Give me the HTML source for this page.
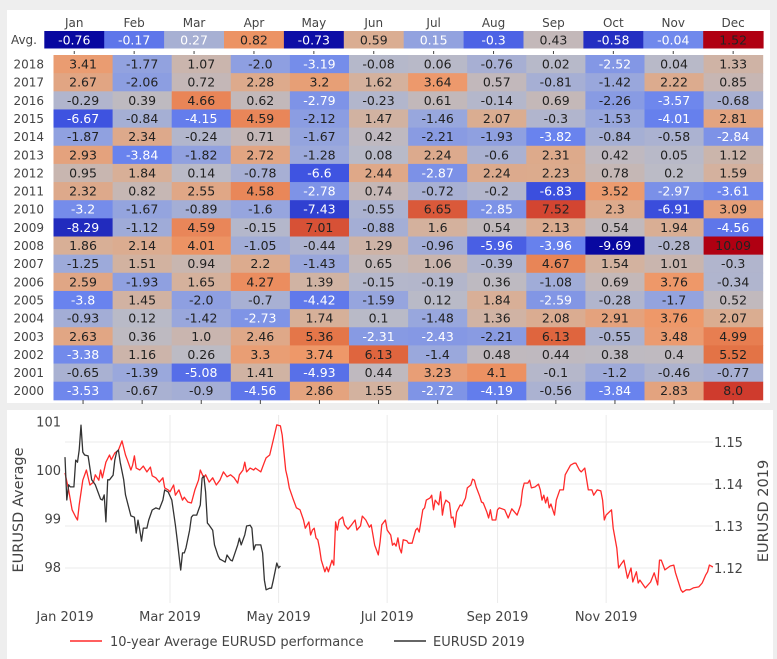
<!DOCTYPE html>
<html><head><meta charset="utf-8">
<style>
html,body{margin:0;padding:0;background:#eeeeee;}
svg{display:block;font-family:"DejaVu Sans","Liberation Sans",sans-serif;}
</style></head>
<body>
<svg id="root" width="777" height="659" viewBox="0 0 777 659">
  <rect x="7" y="10" width="763" height="393" fill="#fff"/>
  <rect x="7" y="410" width="766" height="249" fill="#fff"/>
  <g id="heat"></g>
  <g id="line"></g>
</svg>
<script>
const months=["Jan","Feb","Mar","Apr","May","Jun","Jul","Aug","Sep","Oct","Nov","Dec"];
const avgValues=[-0.76,-0.17,0.27,0.82,-0.73,0.59,0.15,-0.3,0.43,-0.58,-0.04,1.52];
const years=["2018","2017","2016","2015","2014","2013","2012","2011","2010","2009","2008","2007","2006","2005","2004","2003","2002","2001","2000"];
const yearValues=[
[3.41,-1.77,1.07,-2.0,-3.19,-0.08,0.06,-0.76,0.02,-2.52,0.04,1.33],
[2.67,-2.06,0.72,2.28,3.2,1.62,3.64,0.57,-0.81,-1.42,2.22,0.85],
[-0.29,0.39,4.66,0.62,-2.79,-0.23,0.61,-0.14,0.69,-2.26,-3.57,-0.68],
[-6.67,-0.84,-4.15,4.59,-2.12,1.47,-1.46,2.07,-0.3,-1.53,-4.01,2.81],
[-1.87,2.34,-0.24,0.71,-1.67,0.42,-2.21,-1.93,-3.82,-0.84,-0.58,-2.84],
[2.93,-3.84,-1.82,2.72,-1.28,0.08,2.24,-0.6,2.31,0.42,0.05,1.12],
[0.95,1.84,0.14,-0.78,-6.6,2.44,-2.87,2.24,2.23,0.78,0.2,1.59],
[2.32,0.82,2.55,4.58,-2.78,0.74,-0.72,-0.2,-6.83,3.52,-2.97,-3.61],
[-3.2,-1.67,-0.89,-1.6,-7.43,-0.55,6.65,-2.85,7.52,2.3,-6.91,3.09],
[-8.29,-1.12,4.59,-0.15,7.01,-0.88,1.6,0.54,2.13,0.54,1.94,-4.56],
[1.86,2.14,4.01,-1.05,-0.44,1.29,-0.96,-5.96,-3.96,-9.69,-0.28,10.09],
[-1.25,1.51,0.94,2.2,-1.43,0.65,1.06,-0.39,4.67,1.54,1.01,-0.3],
[2.59,-1.93,1.65,4.27,1.39,-0.15,-0.19,0.36,-1.08,0.69,3.76,-0.34],
[-3.8,1.45,-2.0,-0.7,-4.42,-1.59,0.12,1.84,-2.59,-0.28,-1.7,0.52],
[-0.93,0.12,-1.42,-2.73,1.74,0.1,-1.48,1.36,2.08,2.91,3.76,2.07],
[2.63,0.36,1.0,2.46,5.36,-2.31,-2.43,-2.21,6.13,-0.55,3.48,4.99],
[-3.38,1.16,0.26,3.3,3.74,6.13,-1.4,0.48,0.44,0.38,0.4,5.52],
[-0.65,-1.39,-5.08,1.41,-4.93,0.44,3.23,4.1,-0.1,-1.2,-0.46,-0.77],
[-3.53,-0.67,-0.9,-4.56,2.86,1.55,-2.72,-4.19,-0.56,-3.84,2.83,8.0]];

const avgDays=[0,2,4,6,7,8,10,12,14,16,17,19,20,21,23,25,26,28,30,32,34,35,37,38,39,40,42,44,46,48,49,51,53,55,56,58,59,61,62,64,66,67,69,71,73,75,76,78,79,81,83,85,87,89,91,93,95,97,98,100,101,102,104,106,107,110,112,113,115,117,119,121,122,124,125,126,128,130,132,134,135,137,138,139,140,141,142,143,144,146,147,148,149,150,151,152,153,154,156,157,159,161,163,164,166,167,169,171,172,174,175,176,177,178,180,181,183,184,185,186,187,188,189,190,192,193,195,197,198,199,201,202,203,205,206,207,208,210,211,212,213,214,216,217,218,219,220,222,223,225,226,228,229,230,231,233,234,235,237,238,239,240,242,243,244,247,249,251,254,256,257,258,260,261,262,264,266,267,268,269,270,271,272,273,275,276,278,280,281,284,286,287,289,290,292,294,296,297,299,301,302,303,304,307,308,310,311,312,314,316,318,319,321,322,323,326,328,329,331,333,334,335,337,340,342,343,346,347,349,351,353,356,357,358,360,361,362,364];
const avgPerf=[99.94,99.59,99.18,99.03,98.97,99.28,99.79,100.00,99.69,99.75,99.90,99.79,100.00,99.84,100.16,100.31,100.21,100.35,100.41,100.60,100.31,100.21,100.00,100.10,100.29,100.04,100.00,100.08,99.96,100.06,99.88,99.84,99.75,99.84,99.63,99.59,99.55,99.69,99.48,99.59,99.38,99.44,99.34,99.32,99.59,99.79,100.00,99.84,99.90,99.75,99.84,99.69,99.79,99.96,99.86,99.90,99.84,99.73,99.90,100.00,100.16,99.96,100.04,100.00,100.04,99.96,100.16,100.25,100.31,100.62,100.93,100.91,100.72,100.00,99.84,99.63,99.42,99.22,99.18,98.97,98.80,98.93,98.66,98.76,98.80,98.60,98.56,98.39,98.14,97.90,98.00,97.90,98.02,98.14,98.04,98.93,98.76,98.97,99.03,98.87,98.78,98.87,98.97,98.76,98.85,99.05,98.97,98.82,98.87,98.45,98.35,98.25,98.52,98.87,98.97,98.76,98.66,98.45,98.49,98.43,98.60,98.39,98.29,98.56,98.54,98.49,98.49,98.76,98.80,98.72,99.18,99.22,99.38,99.42,99.48,99.18,99.38,99.28,99.55,99.07,99.28,99.38,99.32,99.01,99.03,98.82,99.13,99.28,99.26,99.42,99.63,99.69,99.81,99.79,99.65,99.46,99.34,99.32,99.13,99.01,99.18,98.97,98.97,99.18,99.22,99.18,99.01,99.20,99.07,99.28,99.59,99.73,99.73,99.79,99.63,99.65,99.71,99.59,99.38,99.48,99.32,99.44,99.22,99.30,99.07,99.38,99.59,99.59,99.90,100.10,100.14,100.14,100.00,99.96,100.04,99.59,99.59,99.48,99.59,99.57,99.38,98.97,99.07,99.18,98.80,98.39,97.98,98.04,98.14,97.77,97.98,97.69,97.90,97.67,97.73,97.57,97.65,97.69,97.88,97.63,98.14,98.14,97.94,98.02,98.04,97.88,97.53,97.48,97.53,97.53,97.57,97.59,97.63,97.67,97.84,97.90,98.04,98.00];
const fxDays=[0,1,2,3,5,6,7,8,9,10,11,13,15,17,20,21,22,23,24,25,27,28,29,30,31,33,34,37,39,40,41,42,43,44,46,47,49,51,53,55,56,58,60,62,63,65,66,67,68,70,71,72,74,75,76,77,78,79,80,81,83,84,86,87,88,90,91,93,94,97,98,99,101,102,104,105,106,107,110,111,112,113,115,116,117,119,120,121];
const fxRate=[1.1464,1.1362,1.1398,1.1393,1.1393,1.1457,1.1452,1.1481,1.1540,1.1476,1.1469,1.1467,1.1410,1.1398,1.1364,1.1362,1.1374,1.1310,1.1410,1.1410,1.1421,1.1457,1.1476,1.1481,1.1452,1.1410,1.1374,1.1324,1.1321,1.1283,1.1314,1.1290,1.1264,1.1295,1.1295,1.1314,1.1338,1.1343,1.1340,1.1362,1.1386,1.1381,1.1362,1.1302,1.1269,1.1195,1.1236,1.1236,1.1248,1.1290,1.1321,1.1326,1.1326,1.1338,1.1350,1.1414,1.1419,1.1381,1.1307,1.1302,1.1290,1.1255,1.1229,1.1221,1.1219,1.1214,1.1231,1.1219,1.1217,1.1255,1.1271,1.1255,1.1279,1.1300,1.1302,1.1295,1.1243,1.1255,1.1255,1.1236,1.1171,1.1148,1.1152,1.1152,1.1171,1.1212,1.1200,1.1205];
const leftTicks=[98,99,100,101];
const rightTicks=[1.12,1.13,1.14,1.15];
const xTickDays=[0,59,120,181,243,304];
const xTickLabels=["Jan 2019","Mar 2019","May 2019","Jul 2019","Sep 2019","Nov 2019"];

const NS="http://www.w3.org/2000/svg";
function mk(tag,attrs,parent,text){const e=document.createElementNS(NS,tag);for(const k in attrs)e.setAttribute(k,attrs[k]);if(text!==undefined)e.textContent=text;parent.appendChild(e);return e;}
const stops=[[0,[8,8,160]],[0.15,[61,82,224]],[0.3,[106,132,238]],[0.42,[154,168,220]],[0.5,[187,187,198]],[0.58,[215,176,152]],[0.68,[238,152,105]],[0.78,[226,110,66]],[0.9,[206,56,44]],[1,[176,0,18]]];
function color(t){t=Math.max(0,Math.min(1,t));for(let i=1;i<stops.length;i++){if(t<=stops[i][0]){const a=stops[i-1],b=stops[i];const f=(t-a[0])/(b[0]-a[0]);const c=a[1].map((v,j)=>Math.round(v+(b[1][j]-v)*f));return "rgb("+c.join(",")+")";}}return "rgb(176,0,18)";}
function fmt(v){return Number.isInteger(v)?v.toFixed(1):String(v);}

// Heatmap
const heat=document.getElementById('heat');
const avgX0=44.3,avgW=59.9,avgY=31,avgH=17.5;
const yrX0=53.5,yrW=59.1,yrY0=55,yrH=18.15;
const aMin=Math.min(...avgValues),aMax=Math.max(...avgValues);
const flat=yearValues.flat();const yMin=Math.min(...flat),yMax=Math.max(...flat);
months.forEach((m,i)=>{
  const t=mk('text',{x:avgX0+avgW*(i+0.5),y:27,'text-anchor':'middle','font-size':'12',fill:'#444'},heat,m);
  
  
});
{const t=mk('text',{x:37,y:44,'text-anchor':'end','font-size':'12',fill:'#444'},heat,'Avg.');
}
avgValues.forEach((v,i)=>{
  const tt=(v-aMin)/(aMax-aMin);
  const r=mk('rect',{x:avgX0+avgW*i,y:avgY,width:avgW+0.5,height:avgH,fill:color(tt)},heat);
  
  
  const t=mk('text',{x:avgX0+avgW*(i+0.5),y:avgY+13.5,'text-anchor':'middle','font-size':'12.5',fill:tt<0.46?'#fff':'#222'},heat,fmt(v));
  
  
  mk('line',{x1:avgX0+avgW*(i+0.5),x2:avgX0+avgW*(i+0.5),y1:51,y2:54,stroke:'#444','stroke-width':1},heat);
});
years.forEach((yr,r)=>{
  const y=yrY0+yrH*r;
  const t=mk('text',{x:44,y:y+13.5,'text-anchor':'end','font-size':'12',fill:'#444'},heat,yr);
  
  
  yearValues[r].forEach((v,i)=>{
    const tt=(v-yMin)/(yMax-yMin);
    const c=mk('rect',{x:yrX0+yrW*i,y:y,width:yrW+0.5,height:yrH+0.5,fill:color(tt)},heat);
    
    
    const tx=mk('text',{x:yrX0+yrW*(i+0.5),y:y+13.5,'text-anchor':'middle','font-size':'12.5',fill:tt<0.375?'#fff':'#222'},heat,fmt(v));
    
    
  });
});
months.forEach((m,i)=>{mk('line',{x1:yrX0+yrW*(i+0.5),x2:yrX0+yrW*(i+0.5),y1:400,y2:404,stroke:'#444','stroke-width':1},heat);});

// Line chart
const line=document.getElementById('line');
const px0=65,pxPerDay=1.78,pTop=415,pBot=603,pRight=713;
const xs=d=>px0+d*pxPerDay;
const yl=v=>567-(v-98)*48.5;
const yr=v=>568-(v-1.12)*4200;
xTickDays.forEach((d,i)=>{
  if(d>0)mk('line',{x1:xs(d),x2:xs(d),y1:pTop,y2:pBot,stroke:'#ebebeb','stroke-width':1},line);
  const t=mk('text',{x:xs(d),y:621,'text-anchor':'middle','font-size':'13',fill:'#444'},line,xTickLabels[i]);
  
  
});
rightTicks.forEach(v=>{
  mk('line',{x1:px0,x2:pRight,y1:yr(v),y2:yr(v),stroke:'#ebebeb','stroke-width':1},line);
  const t=mk('text',{x:714,y:yr(v)+5,'text-anchor':'start','font-size':'13',fill:'#444'},line,v.toFixed(2));
  
  
});
leftTicks.forEach(v=>{
  const t=mk('text',{x:61,y:yl(v)+5,'text-anchor':'end','font-size':'13',fill:'#444'},line,String(v));
  
  
});
{const t=mk('text',{x:0,y:0,transform:'translate(23,510) rotate(-90)','text-anchor':'middle','font-size':'14.5',fill:'#444'},line,'EURUSD Average');
}
{const t=mk('text',{x:0,y:0,transform:'translate(768,511) rotate(-90)','text-anchor':'middle','font-size':'14.5',fill:'#444'},line,'EURUSD 2019');
}
{const p=mk('polyline',{points:avgDays.map((d,i)=>xs(d).toFixed(1)+','+yl(avgPerf[i]).toFixed(1)).join(' '),fill:'none',stroke:'#ff2a2a','stroke-width':1.3,'stroke-linejoin':'round'},line);
}
{const p=mk('polyline',{points:fxDays.map((d,i)=>xs(d).toFixed(1)+','+yr(fxRate[i]).toFixed(1)).join(' '),fill:'none',stroke:'#333','stroke-width':1.3,'stroke-linejoin':'round'},line);
}
// legend
{const g=mk('g',{},line);
mk('line',{x1:70,x2:102,y1:641,y2:641,stroke:'#ff2a2a','stroke-width':1.5},g);
mk('text',{x:110,y:646,'font-size':'13',fill:'#444'},g,'10-year Average EURUSD performance');}
{const g=mk('g',{},line);
mk('line',{x1:394,x2:426,y1:641,y2:641,stroke:'#333','stroke-width':1.5},g);
mk('text',{x:433,y:646,'font-size':'13',fill:'#444'},g,'EURUSD 2019');}
</script>
</body></html>
